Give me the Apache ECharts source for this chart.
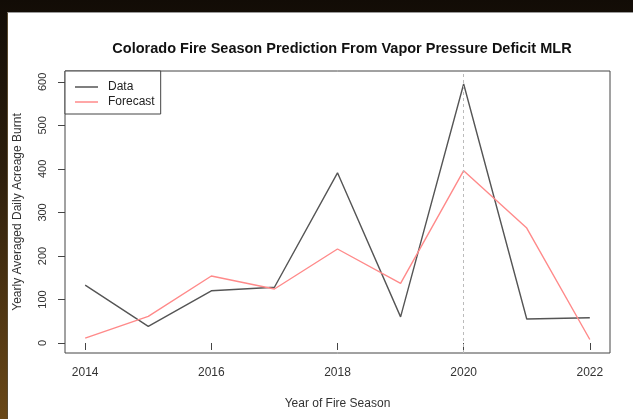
<!DOCTYPE html>
<html>
<head>
<meta charset="utf-8">
<script src="https://cdn.jsdelivr.net/npm/echarts@6/dist/echarts.min.js"></script>
<style>
  html, body { margin: 0; padding: 0; }
  body {
    width: 633px; height: 419px; overflow: hidden; position: relative;
    background: linear-gradient(180deg, #120c06 0%, #2c1e0c 40%, #6a4818 100%);
  }
  #paper {
    position: absolute; left: 7px; top: 12px; right: 0; bottom: 0;
    background: #ffffff;
    border-top: 1px solid #9a9a9a;
    border-left: 1px solid #5a4a30;
    box-sizing: border-box;
  }
  #chart { position: absolute; left: 0; top: 0; width: 633px; height: 419px; }
</style>
</head>
<body>
<div id="paper"></div>
<div id="chart"></div>
<script>
// Fire seasons and yearly averaged daily acreage burnt
const years = [2014, 2015, 2016, 2017, 2018, 2019, 2020, 2021, 2022];
const observed = [133, 38, 120, 128, 391, 60, 595, 55, 58];
const forecast = [11, 61, 154, 124, 216, 137, 396, 264, 8];
const xTicks = [2014, 2016, 2018, 2020, 2022];
const yTicks = [0, 100, 200, 300, 400, 500, 600];
const splitYear = 2020;

const pairs = vals => years.map((y, i) => [y, vals[i]]);

const chart = echarts.init(document.getElementById('chart'), null, { renderer: 'canvas' });
const font = 'Liberation Sans, Arial, sans-serif';
const lineIcon = 'path://M0,7 L23,7 L23,8.5 L0,8.5 Z';

chart.setOption({
  backgroundColor: 'transparent',
  animation: false,
  textStyle: { fontFamily: font },
  title: {
    text: 'Colorado Fire Season Prediction From Vapor Pressure Deficit MLR',
    left: 337, top: 36, textAlign: 'center',
    textStyle: { fontFamily: font, fontWeight: 'bold', fontSize: 14.5, color: '#111' }
  },
  grid: {
    left: 65, right: 23, top: 71, bottom: 66,
    show: true, borderColor: '#444', borderWidth: 1, backgroundColor: 'transparent'
  },
  legend: {
    left: 65, top: 71, orient: 'vertical',
    padding: [10, 6, 6, 10], itemGap: 3,
    itemWidth: 23, itemHeight: 13,
    borderColor: '#444', borderWidth: 1, backgroundColor: '#fff',
    textStyle: { fontFamily: font, fontSize: 12, color: '#222', padding: [0, 0, 0, 5] },
    data: [
      { name: 'Data', icon: lineIcon },
      { name: 'Forecast', icon: lineIcon }
    ]
  },
  xAxis: {
    type: 'value', min: 2013.68, max: 2022.32,
    name: 'Year of Fire Season', nameLocation: 'middle', nameGap: 45,
    nameTextStyle: { fontFamily: font, fontSize: 12, color: '#333' },
    axisLine: { show: false },
    axisTick: { show: true, length: 7, lineStyle: { color: '#444' }, customValues: xTicks },
    axisLabel: {
      customValues: xTicks, margin: 14, fontSize: 12, color: '#333', fontFamily: font,
      formatter: v => String(v)
    },
    splitLine: { show: false }
  },
  yAxis: {
    type: 'value', min: -23, max: 625,
    name: 'Yearly Averaged Daily Acreage Burnt', nameLocation: 'middle', nameGap: 41,
    nameTextStyle: { fontFamily: font, fontSize: 12, color: '#333' },
    axisLine: { show: false },
    axisTick: { show: true, length: 7, lineStyle: { color: '#444' }, customValues: yTicks },
    axisLabel: {
      customValues: yTicks, rotate: 90, margin: 17, fontSize: 11, color: '#333', fontFamily: font,
      formatter: v => String(v)
    },
    splitLine: { show: false }
  },
  series: [
    {
      name: 'Data', type: 'line', data: pairs(observed),
      showSymbol: false, symbol: 'none',
      lineStyle: { color: '#555', width: 1.4 }, itemStyle: { color: '#555' },
      markLine: {
        silent: true, symbol: 'none', label: { show: false },
        lineStyle: { color: '#bbb', type: [3, 3], width: 1 },
        data: [{ xAxis: splitYear }]
      }
    },
    {
      name: 'Forecast', type: 'line', data: pairs(forecast),
      showSymbol: false, symbol: 'none',
      lineStyle: { color: '#ff8a8a', width: 1.4 }, itemStyle: { color: '#ff8a8a' }
    }
  ]
});
</script>
</body>
</html>
